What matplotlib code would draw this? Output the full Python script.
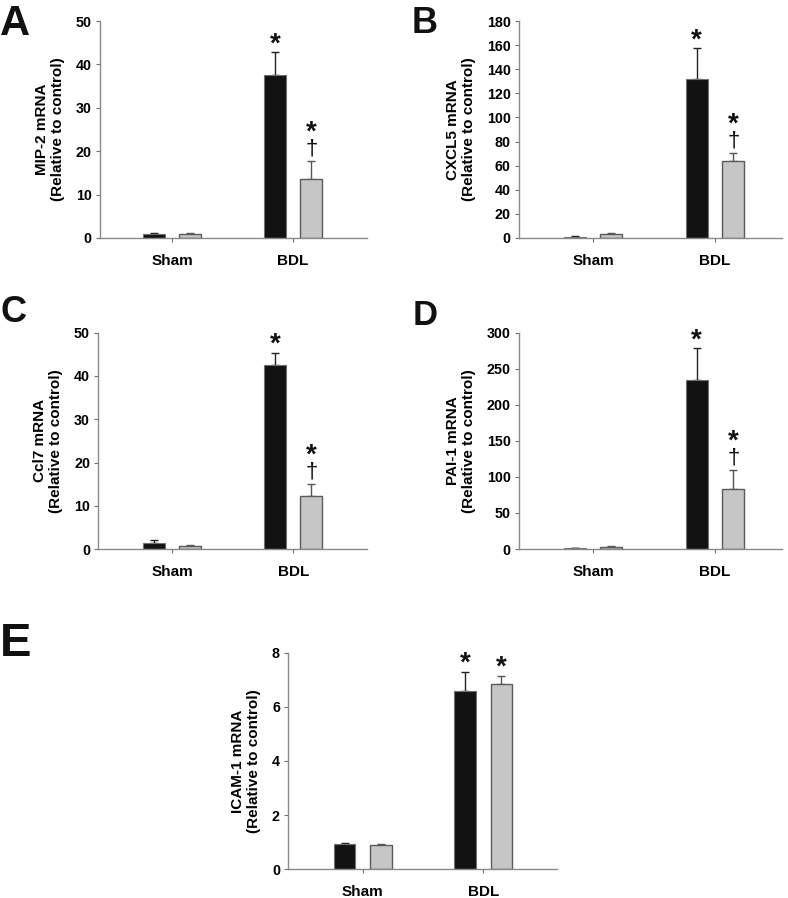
import matplotlib
matplotlib.use('Agg')
import matplotlib.pyplot as plt
import numpy as np

plt.rcParams['font.family'] = ['Liberation Sans', 'DejaVu Sans']
plt.rcParams['font.weight'] = 'bold'

groups = ['Sham', 'BDL']

# panel A - MIP-2
mip2_black = [1.0, 37.5]
mip2_black_err = [0.2, 5.3]
mip2_gray = [0.8, 13.7]
mip2_gray_err = [0.4, 4.0]

# panel B - CXCL5
cxcl5_black = [1.0, 132.0]
cxcl5_black_err = [0.3, 25.5]
cxcl5_gray = [3.2, 64.0]
cxcl5_gray_err = [0.6, 6.5]

# panel C - Ccl7
ccl7_black = [1.5, 42.6]
ccl7_black_err = [0.7, 2.8]
ccl7_gray = [0.8, 12.2]
ccl7_gray_err = [0.2, 2.9]

# panel D - PAI-1
pai1_black = [1.0, 234.0]
pai1_black_err = [0.5, 45.0]
pai1_gray = [3.5, 83.0]
pai1_gray_err = [1.0, 27.0]

# panel E - ICAM-1
icam1_black = [0.95, 6.6]
icam1_black_err = [0.03, 0.7]
icam1_gray = [0.9, 6.85]
icam1_gray_err = [0.02, 0.3]

# significance marks on the BDL bars: (black bar, gray bar)
marks_std = ('*', '*†')
marks_e = ('*', '*')

fig = plt.figure(figsize=(7.88, 8.98), dpi=100)

EDGE = '#707070'


def draw_panel(rect, letter, letter_pos, letter_size, black, black_err, gray, gray_err,
               ylabel, ymax, ystep, marks, xlim):
    # one grouped bar panel with upward error bars
    ax = fig.add_axes(rect)
    x = np.arange(len(groups))
    off = 0.15
    w = 0.18
    ax.bar(x - off, black, w, color='#121212', edgecolor=EDGE, linewidth=0.8, zorder=2)
    ax.bar(x + off, gray, w, color='#c6c6c6', edgecolor='#5a5a5a', linewidth=1.0, zorder=2)
    ax.errorbar(x - off, black, yerr=[np.zeros(len(black)), black_err], fmt='none',
                ecolor='#222222', elinewidth=1.0, capsize=2.6, capthick=1.0, zorder=1)
    ax.errorbar(x + off, gray, yerr=[np.zeros(len(gray)), gray_err], fmt='none',
                ecolor='#555555', elinewidth=1.0, capsize=2.6, capthick=1.0, zorder=1)

    # marks above the BDL bars
    for xi, top, m in [(x[1] - off, black[1] + black_err[1], marks[0]),
                       (x[1] + off, gray[1] + gray_err[1], marks[1])]:
        if '†' in m:
            ax.annotate('†', (xi, top), xytext=(0, 1), textcoords='offset points',
                        ha='center', va='bottom', fontsize=16, fontweight='normal',
                        color='#111111', annotation_clip=False)
            ax.annotate('*', (xi, top), xytext=(0, 11), textcoords='offset points',
                        ha='center', va='bottom', fontsize=20, color='#111111',
                        annotation_clip=False)
        else:
            ax.annotate('*', (xi, top), xytext=(0, -3.8), textcoords='offset points',
                        ha='center', va='bottom', fontsize=20, color='#111111',
                        annotation_clip=False)

    ax.set_xlim(*xlim)
    ax.set_ylim(0, ymax)
    ax.set_yticks(np.arange(0, ymax + ystep / 2, ystep))
    ax.set_xticks(x)
    ax.set_xticklabels(groups, fontsize=11, fontweight='bold')
    ax.tick_params(axis='y', labelsize=10.3, length=3, color=EDGE, pad=3)
    ax.tick_params(axis='x', length=3, color=EDGE, pad=8.5)
    ax.set_ylabel(ylabel, fontsize=11, fontweight='bold', labelpad=8, linespacing=1.15)
    for s in ['top', 'right']:
        ax.spines[s].set_visible(False)
    for s in ['left', 'bottom']:
        ax.spines[s].set_color('#8a8a8a')
        ax.spines[s].set_linewidth(1.0)

    fig.text(letter_pos[0], letter_pos[1], letter, fontsize=letter_size, fontweight='bold',
             ha='left', va='baseline', color='#111111')
    return ax


draw_panel([0.1269, 0.735, 0.3388, 0.2416], 'A', (0.0, 0.961), 30,
           mip2_black, mip2_black_err, mip2_gray, mip2_gray_err,
           'MIP-2 mRNA\n(Relative to control)', 50, 10, marks_std, (-0.595, 1.61))
draw_panel([0.6586, 0.735, 0.3338, 0.2416], 'B', (0.523, 0.963), 26,
           cxcl5_black, cxcl5_black_err, cxcl5_gray, cxcl5_gray_err,
           'CXCL5 mRNA\n(Relative to control)', 180, 20, marks_std, (-0.607, 1.55))
draw_panel([0.1248, 0.3886, 0.3409, 0.2409], 'C', (0.0, 0.6414), 26,
           ccl7_black, ccl7_black_err, ccl7_gray, ccl7_gray_err,
           'Ccl7 mRNA\n(Relative to control)', 50, 10, marks_std, (-0.61, 1.61))
draw_panel([0.6586, 0.3886, 0.3338, 0.2409], 'D', (0.524, 0.638), 25,
           pai1_black, pai1_black_err, pai1_gray, pai1_gray_err,
           'PAI-1 mRNA\n(Relative to control)', 300, 50, marks_std, (-0.607, 1.55))
draw_panel([0.3659, 0.032, 0.3406, 0.2412], 'E', (0.0, 0.2695), 34,
           icam1_black, icam1_black_err, icam1_gray, icam1_gray_err,
           'ICAM-1 mRNA\n(Relative to control)', 8, 2, marks_e, (-0.617, 1.609))

fig.savefig('out.png', dpi=100)
